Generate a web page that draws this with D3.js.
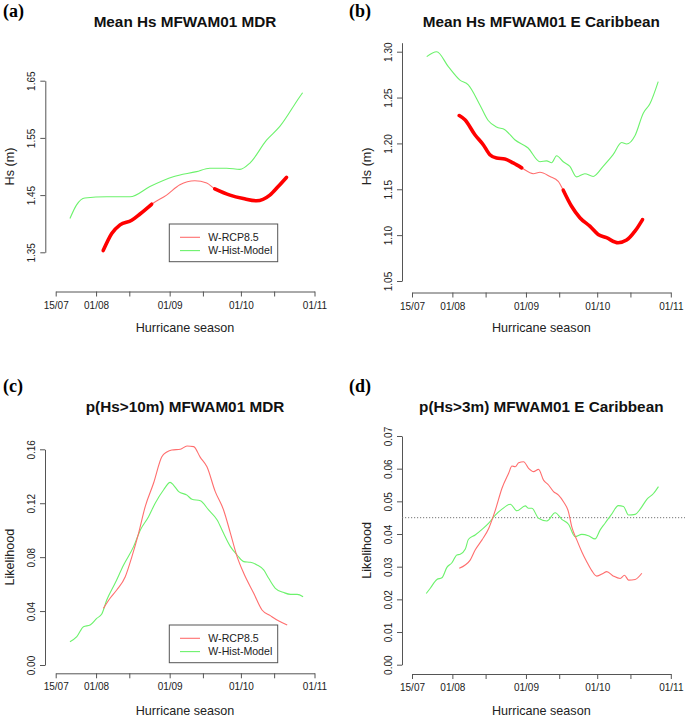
<!DOCTYPE html>
<html><head><meta charset="utf-8">
<script src="https://cdn.jsdelivr.net/npm/d3@7"></script>
<style>
html,body{margin:0;padding:0;background:#fff;}
svg{display:block;}
</style></head>
<body>
<svg id="chart" width="685" height="717"></svg>
<script>
// ---------- data (day = days since 15 July) ----------
const xTickDays   = [0, 17, 31, 48, 62, 78, 92, 109];
const xTickLabels = ["15/07", "01/08", "", "01/09", "", "01/10", "", "01/11"];

const panelLetters = ["(a)", "(b)", "(c)", "(d)"];
const panelTitles  = ["Mean Hs MFWAM01 MDR", "Mean Hs MFWAM01 E Caribbean",
                      "p(Hs>10m) MFWAM01 MDR", "p(Hs>3m) MFWAM01 E Caribbean"];
const yLabels      = ["Hs (m)", "Hs (m)", "Likelihood", "Likelihood"];
const xLabel       = "Hurricane season";
const legendNames  = ["W-RCP8.5", "W-Hist-Model"];

const yTicksA = [1.35, 1.45, 1.55, 1.65];
const yTicksB = [1.05, 1.10, 1.15, 1.20, 1.25, 1.30];
const yTicksC = [0.00, 0.04, 0.08, 0.12, 0.16];
const yTicksD = [0.00, 0.01, 0.02, 0.03, 0.04, 0.05, 0.06, 0.07];

// (a) Mean Hs MDR
const mdrMeanRcp = [[20.0,1.353],[23.6,1.383],[27.1,1.398],[32.0,1.406],[35.5,1.417],[40.4,1.434],
  [46.7,1.450],[52.3,1.468],[58.6,1.475],[63.6,1.471],[67.0,1.461],[73.4,1.450],[79.0,1.444],
  [84.6,1.440],[90.2,1.450],[93.7,1.465],[97.2,1.481]];
const mdrMeanRcpSig = [[20.0,40.4],[67.0,97.2]];
const mdrMeanHist = [[6.0,1.409],[8.8,1.433],[12.3,1.445],[21.5,1.447],[31.3,1.447],[39.7,1.465],
  [49.5,1.482],[59.3,1.491],[64.9,1.497],[72.0,1.497],[77.6,1.495],[81.8,1.506],[88.8,1.546],
  [94.4,1.570],[102.8,1.622],[104.0,1.629]];

// (b) Mean Hs E Caribbean
const carMeanRcp = [[19.9,1.2304],[22.3,1.2258],[26.5,1.2095],[30.0,1.1986],[32.8,1.1877],[35.6,1.1841],
  [39.1,1.1830],[42.6,1.1787],[46.2,1.1733],[51.1,1.1670],[53.9,1.1685],[58.1,1.1640],[61.6,1.1587],
  [63.7,1.1490],[67.2,1.1315],[70.7,1.1190],[74.9,1.1098],[78.4,1.1008],[81.9,1.0972],[86.8,1.0917],
  [90.4,1.0946],[93.9,1.1043],[97.1,1.1170]];
const carMeanRcpSig = [[19.9,46.2],[63.7,97.1]];
const carMeanHist = [[6.2,1.2946],[10.4,1.3000],[15.3,1.2837],[20.2,1.2690],[23.7,1.2638],[28.6,1.2420],
  [32.1,1.2250],[35.6,1.2178],[39.1,1.2150],[43.3,1.2040],[48.9,1.1950],[53.9,1.1800],[56.7,1.1810],
  [58.8,1.1790],[60.9,1.1866],[63.7,1.1800],[66.5,1.1750],[69.3,1.1635],[72.8,1.1670],[76.3,1.1640],
  [80.5,1.1750],[84.7,1.1877],[88.3,1.2010],[90.4,1.1993],[93.9,1.2084],[97.4,1.2330],[100.2,1.2432],
  [103.7,1.2674]];

// (c) p(Hs>10m) MDR
const mdrProbRcp = [[20.1,0.0420],[22.9,0.0495],[25.7,0.0556],[29.3,0.0655],[32.1,0.0804],[34.9,0.0977],
  [37.7,0.1175],[41.2,0.1348],[44.7,0.1545],[46.8,0.1580],[48.9,0.1595],[52.5,0.1600],[55.3,0.1625],
  [58.1,0.1620],[60.9,0.1540],[63.7,0.1470],[67.2,0.1286],[70.7,0.1150],[73.6,0.0977],[76.4,0.0804],
  [79.2,0.0680],[83.4,0.0532],[86.9,0.0408],[90.4,0.0366],[94.0,0.0326],[97.5,0.0297]];
const mdrProbHist = [[6.0,0.0173],[8.9,0.0210],[11.7,0.0284],[14.5,0.0297],[17.3,0.0346],[19.4,0.0378],
  [21.5,0.0482],[25.0,0.0606],[28.6,0.0742],[32.8,0.0878],[35.6,0.1000],[39.1,0.1100],[41.9,0.1200],
  [45.4,0.1298],[48.2,0.1355],[49.6,0.1335],[51.8,0.1286],[55.3,0.1260],[57.4,0.1229],[60.9,0.1219],
  [64.4,0.1150],[68.0,0.1076],[70.7,0.0977],[73.6,0.0878],[76.4,0.0816],[79.2,0.0767],[82.0,0.0762],
  [84.8,0.0742],[87.6,0.0705],[89.7,0.0643],[92.5,0.0569],[96.1,0.0537],[98.9,0.0524],[101.7,0.0524],
  [104.2,0.0507]];

// (d) p(Hs>3m) E Caribbean
const carProbRcp = [[19.9,0.0295],[22.4,0.0305],[24.5,0.0320],[26.6,0.0351],[29.5,0.0382],[32.3,0.0417],
  [35.1,0.0473],[37.9,0.0540],[40.7,0.0586],[42.1,0.0608],[43.5,0.0606],[44.9,0.0618],[47.0,0.0621],
  [49.1,0.0601],[51.2,0.0591],[53.3,0.0598],[55.4,0.0565],[57.5,0.0550],[59.6,0.0530],[61.7,0.0519],
  [63.8,0.0499],[65.9,0.0468],[67.3,0.0422],[69.4,0.0382],[71.5,0.0346],[73.6,0.0315],[75.7,0.0288],
  [77.8,0.0271],[80.6,0.0280],[82.0,0.0285],[84.9,0.0271],[87.7,0.0264],[89.5,0.0274],[91.2,0.0259],
  [94.0,0.0261],[96.8,0.0280]];
const carProbHist = [[6.0,0.0218],[7.7,0.0234],[10.5,0.0261],[12.6,0.0266],[14.7,0.0298],[16.8,0.0312],
  [18.9,0.0336],[20.3,0.0338],[22.4,0.0353],[23.8,0.0384],[26.6,0.0397],[29.5,0.0414],[32.3,0.0433],
  [35.1,0.0458],[37.9,0.0476],[41.4,0.0491],[44.2,0.0471],[47.7,0.0486],[49.1,0.0479],[50.5,0.0479],
  [53.3,0.0448],[56.8,0.0440],[60.3,0.0465],[63.1,0.0445],[65.9,0.0430],[68.7,0.0392],[71.5,0.0399],
  [74.3,0.0395],[77.1,0.0385],[79.2,0.0412],[81.3,0.0433],[84.1,0.0461],[86.9,0.0487],[89.1,0.0484],
  [91.2,0.0458],[94.0,0.0460],[96.1,0.0476],[98.9,0.0506],[101.7,0.0524],[103.8,0.0545]];
const carProbRef = 0.045;

// ---------- layout ----------
const panels = [
  {ox:0,     xa:291.5, ya:45.3, y0:252.3, y1:80.7,  dom:[1.35,1.65], ticks:yTicksA, fmt:".2f",
   title:21.7, xl:327, rcp:mdrMeanRcp, sig:mdrMeanRcpSig, hist:mdrMeanHist, legend:[169.3,224]},
  {ox:356.3, xa:292.5, ya:402, y0:281,   y1:51.7,  dom:[1.05,1.30], ticks:yTicksB, fmt:".2f", axTop:42.7,
   title:21.7, xl:327, rcp:carMeanRcp, sig:carMeanRcpSig, hist:carMeanHist},
  {ox:0,     xa:673.3, ya:45,   y0:665,   y1:449.3, dom:[0,0.16],    ticks:yTicksC, fmt:".2f",
   title:406.7, xl:710, rcp:mdrProbRcp, hist:mdrProbHist, legend:[169.3,625]},
  {ox:356.3, xa:674,   ya:402,  y0:664.7, y1:436,   dom:[0,0.07],    ticks:yTicksD, fmt:".2f",
   title:406.7, xl:710, rcp:carProbRcp, hist:carProbHist, ref:carProbRef}
];
const letterPos = [[3,16.5],[349,16.5],[3,392],[349,392]];

const SANS = "'Liberation Sans', Arial, sans-serif";
const SERIF = "'Liberation Serif', 'Times New Roman', serif";
const svg = d3.select("#chart");
const AX = "#555";
const RED_THIN = "#ff6e6e", GREEN = "#6cf26c";

panels.forEach((p, i) => {
  const x = d3.scaleLinear().domain([0,109]).range([55.7 + p.ox, 314.5 + p.ox]);
  const y = d3.scaleLinear().domain(p.dom).range([p.y0, p.y1]);

  // x axis
  const gx = svg.append("g").attr("transform", `translate(0,${p.xa})`)
    .call(d3.axisBottom(x).tickValues(xTickDays).tickFormat((d,k)=>xTickLabels[k])
      .tickSize(5).tickSizeOuter(0).tickPadding(5));
  gx.select(".domain").attr("stroke", AX);
  gx.selectAll(".tick line").attr("stroke", AX);
  gx.selectAll(".tick text").style("font-family", SANS).style("font-size", "10px").attr("fill", "#222");

  // y axis
  const yAxisScale = p.axTop ? y.copy().domain([p.dom[0], y.invert(p.axTop)]).range([p.y0, p.axTop]) : y;
  const gy = svg.append("g").attr("transform", `translate(${p.ya},0)`)
    .call(d3.axisLeft(yAxisScale).tickValues(p.ticks).tickFormat(d3.format(p.fmt))
      .tickSize(5).tickSizeOuter(0));
  gy.select(".domain").attr("stroke", AX);
  gy.selectAll(".tick line").attr("stroke", AX);
  gy.selectAll(".tick text").style("font-family", SANS).style("font-size", "10px").attr("fill", "#222")
    .attr("transform", "rotate(-90)").attr("x", 0).attr("y", -14).attr("dy", "0.35em")
    .attr("text-anchor", "middle");

  // reference line
  if (p.ref !== undefined) {
    svg.append("line").attr("x1", p.ya).attr("x2", 685)
      .attr("y1", y(p.ref)).attr("y2", y(p.ref))
      .attr("stroke", "#777").attr("stroke-width", 1).attr("stroke-dasharray", "1.2,1.8");
  }

  const line = d3.line().x(d => x(d[0])).y(d => y(d[1])).curve(d3.curveMonotoneX);

  svg.append("path").datum(p.hist).attr("d", line).attr("fill", "none")
    .attr("stroke", GREEN).attr("stroke-width", 1.1);
  svg.append("path").datum(p.rcp).attr("d", line).attr("fill", "none")
    .attr("stroke", RED_THIN).attr("stroke-width", 1.1);
  if (p.sig) {
    p.sig.forEach(r => {
      const seg = p.rcp.filter(d => d[0] >= r[0] - 1e-6 && d[0] <= r[1] + 1e-6);
      svg.append("path").datum(seg).attr("d", line).attr("fill", "none")
        .attr("stroke", "#ff0000").attr("stroke-width", 3.6).attr("stroke-linecap", "round");
    });
  }

  // titles
  const cx = 185 + p.ox;
  svg.append("text").attr("x", cx).attr("y", p.title).attr("dy", "0.36em")
    .attr("text-anchor", "middle").style("font-family", SANS).style("font-size", "15.3px")
    .style("font-weight", "bold").attr("fill", "#111").text(panelTitles[i]);
  svg.append("text").attr("x", cx).attr("y", p.xl).attr("dy", "0.36em")
    .attr("text-anchor", "middle").style("font-family", SANS).style("font-size", "12.6px")
    .attr("fill", "#222").text(xLabel);
  svg.append("text").attr("transform", `translate(${p.ya - 36},${(p.y0 + p.y1) / 2}) rotate(-90)`)
    .attr("dy", "0.36em").attr("text-anchor", "middle").style("font-family", SANS)
    .style("font-size", "12.6px").attr("fill", "#222").text(yLabels[i]);

  // panel letter
  svg.append("text").attr("x", letterPos[i][0]).attr("y", letterPos[i][1])
    .style("font-family", SERIF).style("font-weight", "bold").style("font-size", "18px")
    .attr("fill", "#000").text(panelLetters[i]);

  // legend
  if (p.legend) {
    const [lx, ly] = p.legend;
    const lg = svg.append("g").attr("transform", `translate(${lx},${ly})`);
    lg.append("rect").attr("x", 0).attr("y", 0).attr("width", 108.4).attr("height", 37.7)
      .attr("fill", "#fff").attr("stroke", AX).attr("stroke-width", 1);
    [RED_THIN, GREEN].forEach((c, k) => {
      const yy = 13.3 + k * 13.3;
      lg.append("line").attr("x1", 10.7).attr("x2", 30.7).attr("y1", yy).attr("y2", yy)
        .attr("stroke", c).attr("stroke-width", 1.1);
      lg.append("text").attr("x", 39).attr("y", yy).attr("dy", "0.36em")
        .style("font-family", SANS).style("font-size", "10.6px").attr("fill", "#222")
        .text(legendNames[k]);
    });
  }
});
</script>
</body></html>
